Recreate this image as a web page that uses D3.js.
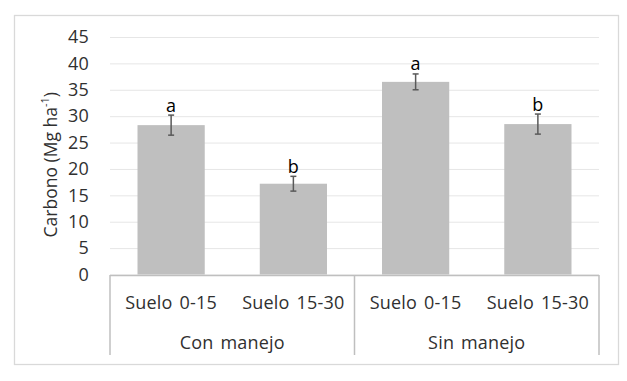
<!DOCTYPE html>
<html>
<head>
<title>Carbono</title>
<style>
body { margin: 0; background: #fff; }
text { font-family: "Open Sans", sans-serif; fill: #303030; }
</style>
<script src="https://d3js.org/d3.v7.min.js"></script>
</head>
<body>
<svg id="chart" width="627" height="381"></svg>
<script>
// data
const categories = ["Suelo 0-15", "Suelo 15-30", "Suelo 0-15", "Suelo 15-30"];
const groups = ["Con manejo", "Sin manejo"];
const values = [28.3, 17.2, 36.5, 28.5];
const errors = [1.9, 1.4, 1.5, 1.9];
const letters = ["a", "b", "a", "b"];
const yTicks = [0, 5, 10, 15, 20, 25, 30, 35, 40, 45];

const svg = d3.select("#chart");
const LEFT = 110, RIGHT = 599, TOP = 37, BOTTOM = 274.5;
const FONT = 18;
const TXT = "#303030";

// outer frame
svg.append("rect")
   .attr("x", 14.5).attr("y", 15.5)
   .attr("width", 604).attr("height", 349)
   .attr("fill", "none").attr("stroke", "#d9d9d9").attr("stroke-width", 1.3);

const x = d3.scaleBand()
            .domain(d3.range(categories.length))
            .range([LEFT, RIGHT]);

const y = d3.scaleLinear()
            .domain([0, 45])
            .range([BOTTOM, TOP]);

const barW = x.bandwidth() * 0.55;

// gridlines + labels
const yAxis = d3.axisLeft(y)
                .tickValues(yTicks)
                .tickSize(-(RIGHT - LEFT))
                .tickPadding(21);

const gy = svg.append("g")
              .attr("transform", `translate(${LEFT},0)`)
              .call(yAxis);
gy.select(".domain").remove();
gy.selectAll(".tick line").attr("stroke", "#e6e6e6").attr("stroke-width", 1);
gy.selectAll(".tick text")
  .attr("font-size", FONT)
  .attr("letter-spacing", 0.2)
  .attr("fill", TXT)
  .style("font-family", "'Open Sans', sans-serif");

// bars
svg.selectAll("rect.bar")
   .data(values)
   .enter()
   .append("rect")
   .attr("class", "bar")
   .attr("x", (d, i) => x(i) + (x.bandwidth() - barW) / 2)
   .attr("y", d => y(d))
   .attr("width", barW)
   .attr("height", d => y(0) - y(d))
   .attr("fill", "#bfbfbf");

// error bars
const eb = svg.selectAll("g.err")
              .data(values)
              .enter()
              .append("g")
              .attr("class", "err")
              .attr("stroke", "#595959")
              .attr("stroke-width", 1.5);
const cx = i => x(i) + x.bandwidth() / 2;
eb.append("line")
  .attr("x1", (d, i) => cx(i)).attr("x2", (d, i) => cx(i))
  .attr("y1", (d, i) => y(d + errors[i])).attr("y2", (d, i) => y(d - errors[i]));
eb.append("line")
  .attr("x1", (d, i) => cx(i) - 3).attr("x2", (d, i) => cx(i) + 3)
  .attr("y1", (d, i) => y(d + errors[i])).attr("y2", (d, i) => y(d + errors[i]));
eb.append("line")
  .attr("x1", (d, i) => cx(i) - 3).attr("x2", (d, i) => cx(i) + 3)
  .attr("y1", (d, i) => y(d - errors[i])).attr("y2", (d, i) => y(d - errors[i]));

// significance letters
svg.selectAll("text.letter")
   .data(letters)
   .enter()
   .append("text")
   .attr("class", "letter")
   .attr("x", (d, i) => cx(i))
   .attr("y", (d, i) => y(values[i] + errors[i]) - 3.5)
   .attr("text-anchor", "middle")
   .attr("font-size", FONT)
   .style("fill", "#000")
   .text(d => d);

// category axis (two levels)
const axisCol = "#bfbfbf";
svg.append("line")
   .attr("x1", LEFT).attr("x2", RIGHT)
   .attr("y1", 275.5).attr("y2", 275.5)
   .attr("stroke", axisCol).attr("stroke-width", 1.5);

const groupEdges = [0, 2, 4].map(k => k < categories.length ? x(k) : RIGHT);
svg.selectAll("line.sep")
   .data(groupEdges)
   .enter()
   .append("line")
   .attr("class", "sep")
   .attr("x1", d => d).attr("x2", d => d)
   .attr("y1", 275).attr("y2", 355)
   .attr("stroke", axisCol).attr("stroke-width", 1.5);

svg.selectAll("text.cat")
   .data(categories)
   .enter()
   .append("text")
   .attr("class", "cat")
   .attr("x", (d, i) => cx(i))
   .attr("y", 302.5)
   .attr("dy", "0.35em")
   .attr("text-anchor", "middle")
   .attr("font-size", FONT)
   .attr("letter-spacing", 0.2)
   .attr("word-spacing", 2)
   .text(d => d);

svg.selectAll("text.grp")
   .data(groups)
   .enter()
   .append("text")
   .attr("class", "grp")
   .attr("x", (d, i) => (groupEdges[i] + groupEdges[i + 1]) / 2)
   .attr("y", 343)
   .attr("dy", "0.35em")
   .attr("text-anchor", "middle")
   .attr("font-size", FONT)
   .attr("letter-spacing", 0.2)
   .attr("word-spacing", 2)
   .text(d => d);

// y axis title
const title = svg.append("text")
                 .attr("transform", `translate(51,${(TOP + BOTTOM) / 2 + 9}) rotate(-90)`)
                 .attr("text-anchor", "middle")
                 .attr("dy", "0.35em")
                 .attr("font-size", FONT - 0.5);
title.append("tspan").text("Carbono (Mg ha");
title.append("tspan").attr("font-size", 11).attr("dy", "-0.7em").text("-1");
title.append("tspan").attr("dy", "0.45em").text(")");
</script>
</body>
</html>
